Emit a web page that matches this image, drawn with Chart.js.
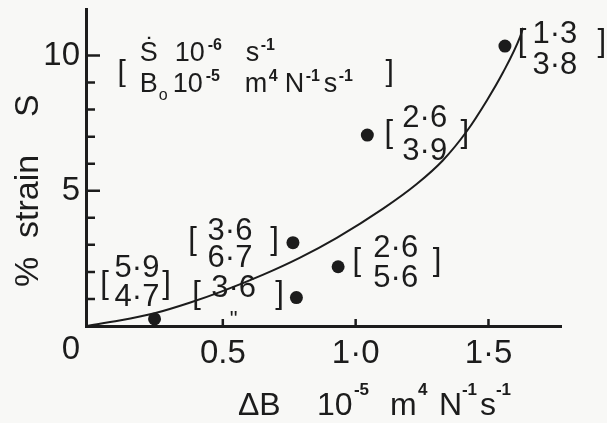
<!DOCTYPE html>
<html>
<head>
<meta charset="utf-8">
<script src="https://cdn.jsdelivr.net/npm/chart.js@4.4.1/dist/chart.umd.min.js"></script>
<style>
  html, body { margin: 0; padding: 0; background: #f8f8f6; }
  #grafico { display: block; }
</style>
</head>
<body>
<canvas id="grafico" width="607" height="423"></canvas>
<script>
// medidas: incremento de B (10^-5 m4 N-1 s-1) y deformacion (%)
const puntosB = [0.243, 0.764, 0.777, 0.934, 1.044, 1.562];
const puntosS = [0.26, 3.08, 1.05, 2.19, 7.06, 10.35];

// curva trazada a mano
const curvaB = [-0.015, 0.111, 0.243, 0.375, 0.499, 0.650, 0.789, 0.929, 1.102, 1.230, 1.328, 1.419, 1.494, 1.554, 1.619, 1.630];
const curvaS = [0, 0.20, 0.47, 0.86, 1.29, 1.89, 2.52, 3.26, 4.33, 5.25, 6.12, 7.21, 8.34, 9.36, 10.69, 11.02];

// etiquetas [S punto ; B0] de cada punto
const etiquetaArriba = ['5·9', '3·6', '3·6', '2·6', '2·6', '1·3'];
const etiquetaAbajo = ['4·7', '6·7', '"', '5·6', '3·9', '3·8'];

const ticksX = [0.5, 1.0, 1.5];
const textoTicksX = ['0.5', '1·0', '1·5'];
const ticksY = [5, 10];
const marcasY = [1, 2, 3, 4, 5, 6, 7, 8, 9, 10];

// donde va cada etiqueta, en unidades de los ejes
const colocacion = [
  { x: 0.177, y1: 2.11, y2: 1.05, xl: 0.055, xr: 0.288, yb: 1.44 },
  { x: 0.527, y1: 3.51, y2: 2.48, xl: 0.386, xr: 0.695, yb: 3.07 },
  { x: 0.541, y1: 1.37, y2: 0.22, xl: 0.401, xr: 0.714, yb: 1.07 },
  { x: 1.151, y1: 2.85, y2: 1.77, xl: 1.004, xr: 1.306, yb: 2.29 },
  { x: 1.260, y1: 7.67, y2: 6.45, xl: 1.125, xr: 1.411, yb: 7.02 },
  { x: 1.750, y1: 10.79, y2: 9.65, xl: 1.626, xr: 1.927, yb: 10.39 }
];

const FUENTE = '"Liberation Sans", "DejaVu Sans", sans-serif';
const TINTA = '#1c1c1c';

function textoRico(ctx, partes, x0, y0) {
  ctx.textAlign = 'left';
  ctx.textBaseline = 'alphabetic';
  partes.forEach(function (p) {
    ctx.font = p.f;
    ctx.fillText(p.t, x0 + p.dx, y0 + (p.dy || 0));
  });
}

function sinRelleno(s) {
  s.paddingTop = 0;
  s.paddingBottom = 0;
  s.paddingLeft = 0;
  s.paddingRight = 0;
}

const dibujoExtra = {
  id: 'dibujoExtra',
  afterDraw: function (chart) {
    const ctx = chart.ctx;
    const ex = chart.scales.x;
    const ey = chart.scales.y;
    const area = chart.chartArea;
    ctx.save();
    ctx.fillStyle = TINTA;
    ctx.strokeStyle = TINTA;

    // marcas hacia dentro
    ctx.lineWidth = 2.5;
    ctx.beginPath();
    marcasY.forEach(function (v) {
      const py = ey.getPixelForValue(v);
      const largo = v % 5 === 0 ? 14 : 9;
      ctx.moveTo(area.left, py);
      ctx.lineTo(area.left + largo, py);
    });
    ticksX.forEach(function (v) {
      const px = ex.getPixelForValue(v);
      ctx.moveTo(px, area.bottom);
      ctx.lineTo(px, area.bottom - 7);
    });
    ctx.stroke();

    // cero comun
    ctx.font = '33px ' + FUENTE;
    ctx.textAlign = 'center';
    ctx.textBaseline = 'middle';
    ctx.fillText('0', ex.getPixelForValue(0) - 19, area.bottom + 24);

    // etiquetas entre corchetes
    colocacion.forEach(function (c, i) {
      const px = ex.getPixelForValue(c.x);
      ctx.textAlign = 'center';
      ctx.textBaseline = 'middle';
      ctx.font = '31px ' + FUENTE;
      ctx.fillText(etiquetaArriba[i], px, ey.getPixelForValue(c.y1));
      if (etiquetaAbajo[i] === '"') {
        ctx.font = '22px ' + FUENTE;
      }
      ctx.fillText(etiquetaAbajo[i], px, ey.getPixelForValue(c.y2));
      ctx.font = '31px ' + FUENTE;
      const pb = ey.getPixelForValue(c.yb) - 3;
      ctx.fillText('[', ex.getPixelForValue(c.xl), pb);
      ctx.fillText(']', ex.getPixelForValue(c.xr), pb);
    });

    // leyenda de unidades
    const F = '27px ' + FUENTE;
    const SUP = 'bold 16px ' + FUENTE;
    const lx = ex.getPixelForValue(0.187);
    const ly = ey.getPixelForValue(9.8);
    textoRico(ctx, [
      { t: 'Ṡ', dx: 0, f: F },
      { t: '10', dx: 35, f: F },
      { t: '-6', dx: 68, dy: -11, f: SUP },
      { t: 's', dx: 106, f: F },
      { t: '-1', dx: 121, dy: -11, f: SUP }
    ], lx, ly);
    textoRico(ctx, [
      { t: 'B', dx: 0, f: F },
      { t: 'o', dx: 19, dy: 8, f: '16px ' + FUENTE },
      { t: '10', dx: 33, f: F },
      { t: '-5', dx: 66, dy: -11, f: SUP },
      { t: 'm', dx: 105, f: F },
      { t: '4', dx: 129, dy: -11, f: SUP },
      { t: 'N', dx: 145, f: F },
      { t: '-1', dx: 166, dy: -11, f: SUP },
      { t: 's', dx: 184, f: F },
      { t: '-1', dx: 199, dy: -11, f: SUP }
    ], lx, ly + 31);
    ctx.font = '30px ' + FUENTE;
    ctx.textAlign = 'center';
    ctx.textBaseline = 'middle';
    ctx.fillText('[', lx - 18, ly + 12);
    ctx.fillText(']', lx + 250, ly + 12);

    // titulo eje x
    const T = '32px ' + FUENTE;
    const SUPT = 'bold 17px ' + FUENTE;
    textoRico(ctx, [
      { t: 'ΔB', dx: 0, f: T },
      { t: '10', dx: 79, f: T },
      { t: '-5', dx: 116, dy: -20, f: SUPT },
      { t: 'm', dx: 152, f: T },
      { t: '4', dx: 180, dy: -20, f: SUPT },
      { t: 'N', dx: 201, f: T },
      { t: '-1', dx: 224, dy: -20, f: SUPT },
      { t: 's', dx: 242, f: T },
      { t: '-1', dx: 258, dy: -20, f: SUPT }
    ], ex.getPixelForValue(0.557), area.bottom + 89);

    // titulo eje y
    ctx.translate(38, ey.getPixelForValue(5.0));
    ctx.rotate(-Math.PI / 2);
    ctx.font = '34px ' + FUENTE;
    ctx.textAlign = 'center';
    ctx.textBaseline = 'alphabetic';
    ctx.fillText('%  strain    S', 0, 0);
    ctx.restore();
  }
};

const ctx = document.getElementById('grafico').getContext('2d');
new Chart(ctx, {
  type: 'scatter',
  data: {
    datasets: [{
      data: curvaB.map(function (b, i) { return { x: b, y: curvaS[i] }; }),
      showLine: true,
      borderColor: TINTA,
      borderWidth: 2,
      pointRadius: 0,
      cubicInterpolationMode: 'monotone'
    }, {
      data: puntosB.map(function (b, i) { return { x: b, y: puntosS[i] }; }),
      showLine: false,
      pointRadius: 6.5,
      pointBackgroundColor: TINTA,
      pointBorderWidth: 0
    }]
  },
  options: {
    responsive: false,
    animation: false,
    layout: { padding: { top: 9, right: 46, left: 0, bottom: 0 } },
    plugins: {
      legend: { display: false },
      tooltip: { enabled: false }
    },
    scales: {
      x: {
        type: 'linear',
        min: -0.015,
        max: 1.773,
        afterBuildTicks: function (s) { s.ticks = ticksX.map(function (v) { return { value: v }; }); },
        afterFit: function (s) { s.height = 97; sinRelleno(s); },
        grid: { display: false, drawTicks: false },
        border: { display: true, width: 3, color: TINTA },
        ticks: {
          autoSkip: false,
          maxRotation: 0,
          padding: 8,
          color: TINTA,
          font: { family: FUENTE, size: 33 },
          callback: function (v) {
            const i = ticksX.indexOf(v);
            return i >= 0 ? textoTicksX[i] : '';
          }
        }
      },
      y: {
        type: 'linear',
        min: 0,
        max: 11.72,
        afterBuildTicks: function (s) { s.ticks = ticksY.map(function (v) { return { value: v }; }); },
        afterFit: function (s) { s.width = 86; sinRelleno(s); },
        grid: { display: false, drawTicks: false },
        border: { display: true, width: 3, color: TINTA },
        ticks: {
          autoSkip: false,
          padding: 6,
          color: TINTA,
          font: { family: FUENTE, size: 33 }
        }
      }
    }
  },
  plugins: [dibujoExtra]
});
</script>
</body>
</html>
